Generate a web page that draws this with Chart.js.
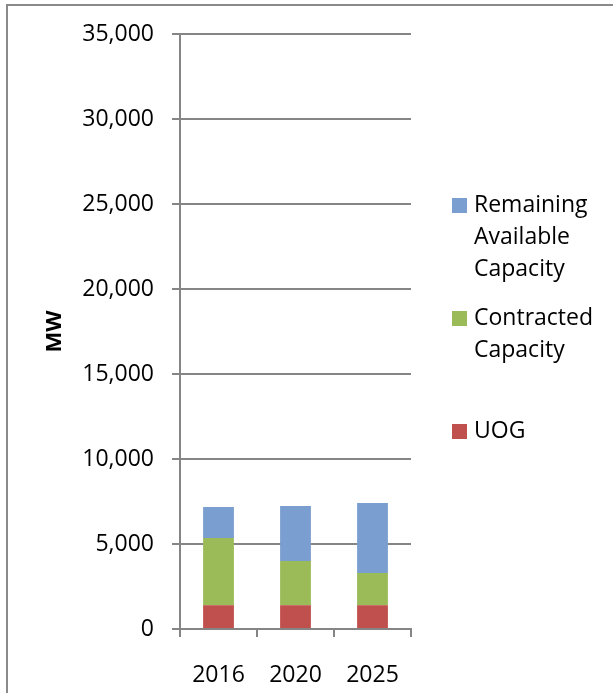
<!DOCTYPE html>
<html>
<head>
<meta charset="utf-8">
<script src="https://cdn.jsdelivr.net/npm/chart.js@4/dist/chart.umd.min.js"></script>
<style>
  html, body { margin: 0; padding: 0; background: #fff; overflow: hidden; }
  #wrap { position: relative; width: 613px; height: 693px; }
  #frame { position: absolute; left: 6px; top: 4px; width: 700px; height: 800px;
           border-left: 2px solid #8a8a8a; border-top: 2px solid #8a8a8a; }
  canvas { position: absolute; left: 0; top: 0; }
</style>
</head>
<body>
<div id="wrap">
  <div id="frame"></div>
  <canvas id="capacity" width="613" height="693"></canvas>
</div>
<script>
const years = ["2016", "2020", "2025"];
const uog = [1400, 1400, 1400];
const contracted = [3950, 2600, 1900];
const remaining = [1830, 3240, 4110];
const yMax = 35000;
const yStep = 5000;

const FONT = "'Open Sans', 'Noto Sans', sans-serif";
const GRID = "#858585";

// Excel-style legend on the right, entries spaced evenly, text wrapped
const sideLegend = {
  id: "sideLegend",
  afterDraw(chart) {
    const ctx = chart.ctx;
    const items = chart.data.datasets.slice().reverse();
    const boxX = 452, textX = 474, maxW = 136, lineH = 32, step = 97, firstCenter = 237;
    ctx.save();
    ctx.font = "23px " + FONT;
    ctx.textBaseline = "middle";
    items.forEach((ds, i) => {
      const words = ds.label.split(" ");
      const lines = [];
      let cur = "";
      for (const w of words) {
        const t = cur ? cur + " " + w : w;
        if (cur && ctx.measureText(t).width > maxW) { lines.push(cur); cur = w; }
        else cur = t;
      }
      lines.push(cur);
      const center = firstCenter + i * step;
      const y0 = center - (lines.length - 1) * lineH / 2;
      ctx.fillStyle = ds.backgroundColor;
      ctx.fillRect(boxX, y0 - 7, 15, 15);
      ctx.fillStyle = "#000";
      lines.forEach((l, k) => ctx.fillText(l, textX, y0 + k * lineH));
    });
    ctx.restore();
  }
};

new Chart(document.getElementById("capacity"), {
  type: "bar",
  data: {
    labels: years,
    datasets: [
      { label: "UOG", data: uog, backgroundColor: "#C0504D" },
      { label: "Contracted Capacity", data: contracted, backgroundColor: "#9BBB59" },
      { label: "Remaining Available Capacity", data: remaining, backgroundColor: "#7A9ECF" }
    ]
  },
  options: {
    responsive: false,
    animation: false,
    layout: { padding: { left: 7, top: 34, right: 202, bottom: 0 } },
    datasets: { bar: { barPercentage: 0.4, categoryPercentage: 1 } },
    plugins: { legend: { display: false }, tooltip: { enabled: false } },
    scales: {
      x: {
        stacked: true,
        afterFit: s => { s.height = 64; },
        grid: { offset: true, drawOnChartArea: false, color: GRID, lineWidth: 2, tickLength: 8 },
        border: { color: GRID, width: 2 },
        ticks: { color: "#000", padding: 25, font: { family: FONT, size: 23 } }
      },
      y: {
        stacked: true,
        min: 0,
        max: yMax,
        afterFit: s => { s.width = 173; },
        grid: { color: GRID, lineWidth: 2, tickLength: 8 },
        border: { color: GRID, width: 2 },
        ticks: {
          stepSize: yStep,
          color: "#000",
          padding: 18,
          font: { family: FONT, size: 23 },
          callback: v => v.toLocaleString("en-US")
        },
        title: {
          display: true,
          text: "MW",
          color: "#000",
          padding: { top: 35, bottom: 0 },
          font: { family: FONT, size: 22, weight: "bold" }
        }
      }
    }
  },
  plugins: [sideLegend]
});
</script>
</body>
</html>
